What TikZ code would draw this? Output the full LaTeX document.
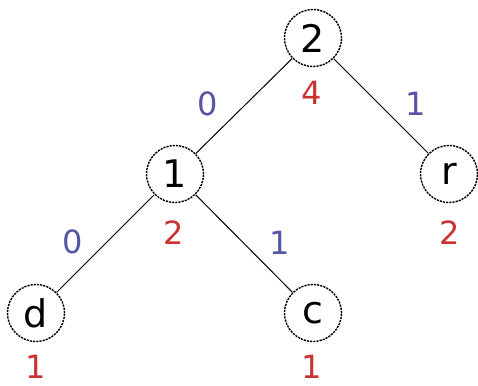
\documentclass[tikz,border=0pt]{standalone}
\usepackage{fontspec}
\setmainfont{DejaVu Sans}
\definecolor{bitblue}{RGB}{85,85,165}
\definecolor{freqred}{RGB}{205,50,50}

\begin{document}
\begin{tikzpicture}[x=1pt,y=-1pt,
		leaf/.style={circle,draw,dash pattern=on 2.2pt off 1pt,line width=1.4pt,minimum size=57pt,inner sep=0pt,font=\fontsize{38}{38}\selectfont},
		bit/.style={text=bitblue,inner sep=0pt,font=\fontsize{32}{32}\selectfont},
		freq/.style={text=freqred,inner sep=0pt,font=\fontsize{32}{32}\selectfont}]
		\useasboundingbox (0,0) rectangle (478,385);
		%nodes
			\node[leaf] (root) at (313,38) {2};
			\node[leaf] (inner) at (175,174) {1};
			\node[leaf] (r) at (449,174) {r};
			\node[leaf] (d) at (36,313) {d};
			\node[leaf] (c) at (313,313) {c};
		%edges
			\draw [line width=1pt] (root) -- (inner);
			\draw [line width=1pt] (root) -- (r);
			\draw [line width=1pt] (inner) -- (d);
			\draw [line width=1pt] (inner) -- (c);
		%bits + counts
			\node[bit] (b0) at (208,104) {0};
			\node[bit] (b1) at (416,104) {1};
			\node[bit] (b00) at (73,242) {0};
			\node[bit] (b01) at (280,243) {1};
			\node[freq] (f2) at (312,93) {4};
			\node[freq] (f1) at (174,233) {2};
			\node[freq] (fr) at (450,233) {2};
			\node[freq] (fd) at (36,367) {1};
			\node[freq] (fc) at (312,367) {1};
	\end{tikzpicture}
\end{document}
